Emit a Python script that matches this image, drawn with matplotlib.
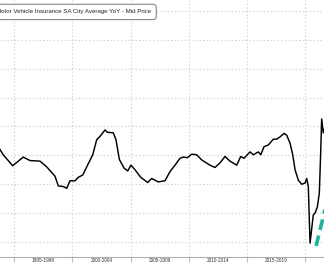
import matplotlib.pyplot as plt
from matplotlib.ticker import FixedLocator, FixedFormatter

# decimal years and YoY %
years = [1993.77, 1994.05, 1994.86, 1995.77, 1996.35, 1997.21, 1997.79, 1998.50,
         1998.79, 1999.22, 1999.51, 1999.79, 2000.22, 2000.51, 2000.89, 2001.28,
         2001.75, 2002.09, 2002.38, 2002.81, 2003.00, 2003.52, 2003.75, 2004.04,
         2004.44, 2004.76, 2005.04, 2005.39, 2005.88, 2006.48, 2006.82, 2007.39,
         2007.97, 2008.40, 2008.83, 2009.26, 2009.54, 2009.89, 2010.27, 2010.70,
         2011.13, 2011.84, 2012.27, 2012.70, 2013.13, 2013.56, 2014.14, 2014.48,
         2014.77, 2015.28, 2015.57, 2016.00, 2016.21, 2016.49, 2016.86, 2017.29,
         2017.58, 2017.87, 2018.21, 2018.44, 2018.73, 2018.96, 2019.16, 2019.44,
         2019.73, 2020.02, 2020.16, 2020.30, 2020.45, 2020.73, 2020.88, 2021.08,
         2021.25, 2021.37, 2021.45, 2021.59, 2021.70]
yoy = [6.0, 5.1, 3.2, 4.7, 4.1, 4.0, 3.0, 1.4,
       -0.3, -0.4, -0.7, 0.6, 0.6, 1.2, 1.6, 3.2,
       5.1, 7.7, 8.3, 9.4, 9.0, 8.9, 7.7, 4.3,
       2.8, 2.3, 3.3, 2.5, 1.2, 0.3, 1.0, 0.4,
       0.6, 2.2, 3.3, 4.5, 4.7, 4.6, 5.2, 5.1,
       4.2, 3.3, 2.9, 3.7, 4.8, 4.0, 3.3, 4.8,
       4.5, 5.6, 5.1, 5.6, 5.1, 6.5, 6.8, 7.8,
       7.8, 8.2, 8.8, 8.5, 7.1, 5.1, 2.5, 0.7,
       0.0, 0.2, 1.0, -0.4, -10.2, -5.3, -5.0, -3.9,
       -1.5, 5.9, 11.3, 8.9, 9.6]

# teal dashed projection
proj_years = [2020.97, 2021.83]
proj_vals = [-10.7, -3.6]

period_starts = [1990, 1995, 2000, 2005, 2010, 2015, 2020]
period_labels = ['1990-1994', '1995-1999', '2000-2004', '2005-2009',
                 '2010-2014', '2015-2019', '2020-2024']
grid_vals = [-10, -5, 0, 5, 10, 15, 20, 25, 30]

title = 'Motor Vehicle Insurance SA City Average YoY - Mid Price'

plt.rcParams['font.family'] = ['Liberation Sans', 'DejaVu Sans']

fig = plt.figure(figsize=(3.24, 2.65), dpi=100)
ax = fig.add_axes([0, 8 / 265, 1, 1 - 8 / 265])

ax.plot(years, yoy, color='black', lw=1.05, zorder=3)
ax.plot(proj_years, proj_vals, color='#1fb39c', lw=2.6, dashes=(3, 1.6), zorder=3)

ax.set_xlim(1993.77, 2021.65)
ax.set_ylim(-12.6, 31.9)

ax.xaxis.set_major_locator(FixedLocator(period_starts))
ax.xaxis.set_major_formatter(FixedFormatter([''] * len(period_starts)))
ax.xaxis.set_minor_locator(FixedLocator([p + 2.5 for p in period_starts]))
ax.xaxis.set_minor_formatter(FixedFormatter(period_labels))
ax.tick_params(axis='x', which='major', direction='out', length=3.5, color='#c0c0c0', width=0.8)
ax.tick_params(axis='x', which='minor', length=0, pad=0.8, labelsize=3.4, labelcolor='#333333')
ax.set_yticks(grid_vals)
ax.tick_params(axis='y', left=False, labelleft=False)

ax.grid(True, which='major', color='#c8c8c8', lw=0.8, linestyle=(0, (1, 2.2)))

for side in ['left', 'right', 'top']:
    ax.spines[side].set_visible(False)
ax.spines['bottom'].set_color('#b0b0b0')
ax.spines['bottom'].set_linewidth(0.8)

fig.text(-0.0125, 0.955, title, fontsize=4.4, color='#222222', ha='left', va='center',
         bbox=dict(boxstyle='round,pad=0.85,rounding_size=0.6', fc='white', ec='#777777', lw=0.7))

fig.savefig('out.png', dpi=100)
